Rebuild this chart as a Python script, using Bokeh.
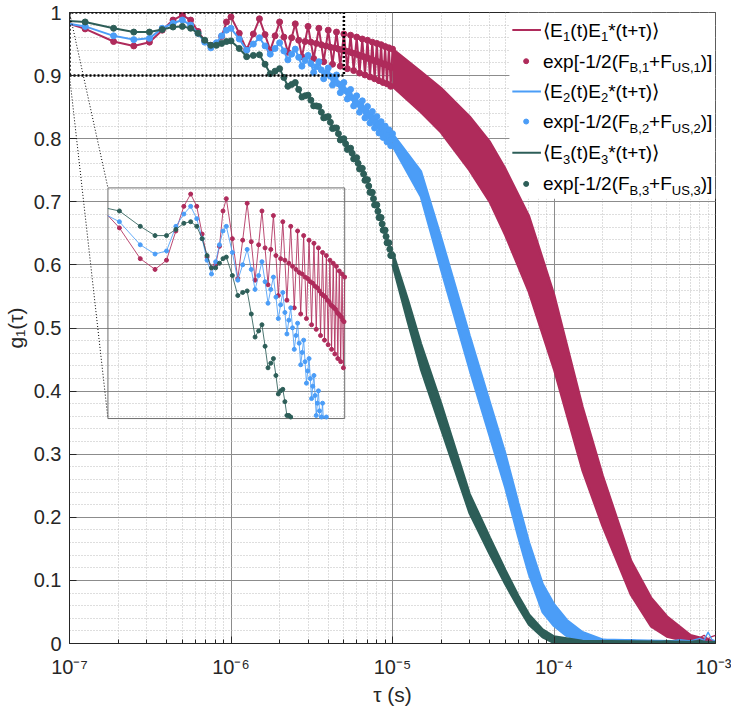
import numpy as np
from bokeh.plotting import figure
from bokeh.models import (Range1d, LogScale, LinearScale, FixedTicker,
                          CustomJSTickFormatter, Label, BoxAnnotation)
from bokeh.embed import file_html
from bokeh.resources import INLINE

RED, BLUE, GREEN = "#AF2B5B", "#4B9DF7", "#2D5E58"
FONT = "Liberation Sans"

# ---------------- axis ticks ----------------
x_tick_vals = [1e-7, 1e-6, 1e-5, 1e-4, 1e-3]
x_tick_labels = ["10\u207b\u2077", "10\u207b\u2076", "10\u207b\u2075", "10\u207b\u2074", "10\u207b\u00b3"]
y_tick_vals = [0.0, 0.1, 0.2, 0.3, 0.4, 0.5, 0.6, 0.7, 0.8, 0.9, 1.0]
y_tick_labels = ["0", "0.1", "0.2", "0.3", "0.4", "0.5", "0.6", "0.7", "0.8", "0.9", "1"]

# ---------------- data: first samples (62.5 ns spacing) ----------------
tau_early = [6.25e-8, 1.25e-7, 1.875e-7, 2.5e-7, 3.125e-7, 3.75e-7, 4.375e-7, 5.0e-7,
             5.625e-7, 6.25e-7, 6.875e-7, 7.5e-7, 8.125e-7, 8.75e-7, 9.375e-7]
red_early = [0.999, 0.974, 0.954, 0.947, 0.953, 0.972, 0.988, 0.996,
             0.988, 0.970, 0.955, 0.948, 0.950, 0.962, 0.985]
blue_early = [0.990, 0.978, 0.963, 0.957, 0.959, 0.975, 0.983, 0.988,
              0.980, 0.967, 0.953, 0.944, 0.952, 0.963, 0.972]
green_early = [0.990, 0.985, 0.975, 0.969, 0.969, 0.973, 0.977, 0.978,
               0.975, 0.967, 0.956, 0.948, 0.948, 0.951, 0.954]

# ---------------- data: oscillating part, period 0.5 us (periods 2..20) ----------------
T_OSC = 5e-7
osc_index = list(range(2, 21))
red_peak = [0.993, 0.990, 0.985, 0.982, 0.978, 0.975, 0.972, 0.969, 0.966, 0.964,
            0.961, 0.958, 0.956, 0.953, 0.951, 0.949, 0.946, 0.944, 0.942]
red_fall = [0.967, 0.965, 0.961, 0.956, 0.953, 0.949, 0.945, 0.942, 0.939, 0.936,
            0.933, 0.930, 0.927, 0.924, 0.922, 0.919, 0.917, 0.914]
red_trough = [0.941, 0.940, 0.937, 0.930, 0.927, 0.922, 0.918, 0.915, 0.911, 0.908,
              0.904, 0.901, 0.898, 0.895, 0.892, 0.889, 0.887, 0.883]
red_rise = [0.966, 0.963, 0.960, 0.954, 0.951, 0.947, 0.944, 0.941, 0.938, 0.935,
            0.931, 0.929, 0.926, 0.923, 0.921, 0.918, 0.916, 0.913]

blue_peak = [0.975, 0.960, 0.952, 0.942, 0.932, 0.922, 0.912, 0.901, 0.889, 0.878,
             0.868, 0.860, 0.851, 0.843, 0.835, 0.827, 0.820, 0.814, 0.808]
blue_fall = [0.958, 0.947, 0.939, 0.929, 0.919, 0.909, 0.899, 0.887, 0.876, 0.865,
             0.855, 0.847, 0.838, 0.830, 0.822, 0.815, 0.808, 0.802]
blue_trough = [0.940, 0.934, 0.925, 0.915, 0.905, 0.895, 0.885, 0.873, 0.863, 0.852,
               0.842, 0.833, 0.825, 0.817, 0.809, 0.802, 0.795, 0.789]
blue_rise = [0.950, 0.943, 0.934, 0.924, 0.914, 0.904, 0.893, 0.881, 0.871, 0.860,
             0.851, 0.842, 0.834, 0.826, 0.818, 0.811, 0.805, 0.799]

green_peak = [0.955, 0.933, 0.911, 0.889, 0.869, 0.851, 0.835, 0.817, 0.800, 0.785,
              0.770, 0.753, 0.735, 0.715, 0.695, 0.675, 0.655, 0.635, 0.615]
green_fall = [0.943, 0.918, 0.897, 0.878, 0.861, 0.842, 0.826, 0.808, 0.792, 0.777,
              0.761, 0.744, 0.725, 0.705, 0.685, 0.665, 0.645, 0.625]
green_trough = [0.930, 0.903, 0.883, 0.866, 0.852, 0.833, 0.816, 0.798, 0.783, 0.768,
                0.752, 0.734, 0.715, 0.695, 0.675, 0.655, 0.635, 0.615]
green_rise = [0.932, 0.907, 0.886, 0.868, 0.852, 0.834, 0.817, 0.799, 0.784, 0.769,
              0.753, 0.735, 0.715, 0.695, 0.675, 0.655, 0.635, 0.615]

# ---------------- data: dense part drawn as envelope band ----------------
red_band_tau = [1e-5, 1.5e-5, 2e-5, 3e-5, 4e-5, 5e-5, 7e-5, 1e-4, 1.5e-4, 2e-4, 3e-4, 4e-4, 5e-4, 7e-4, 1e-3]
red_band_hi = [0.942, 0.906, 0.880, 0.835, 0.795, 0.752, 0.677, 0.553, 0.375, 0.266, 0.131, 0.072, 0.043, 0.013, 0.003]
red_band_lo = [0.883, 0.842, 0.810, 0.750, 0.700, 0.647, 0.557, 0.435, 0.275, 0.186, 0.077, 0.027, 0.011, 0.002, 0.000]

blue_band_tau = [1e-5, 1.5e-5, 2e-5, 3e-5, 4e-5, 5e-5, 6e-5, 7e-5, 8.5e-5, 1e-4, 1.2e-4, 1.5e-4, 2e-4, 1e-3]
blue_band_hi = [0.808, 0.748, 0.643, 0.488, 0.382, 0.300, 0.223, 0.160, 0.094, 0.062, 0.037, 0.018, 0.006, 0.002]
blue_band_lo = [0.789, 0.708, 0.593, 0.435, 0.329, 0.247, 0.170, 0.110, 0.050, 0.028, 0.012, 0.004, 0.000, 0.000]

green_band_tau = [1e-5, 1.25e-5, 1.5e-5, 2e-5, 3e-5, 4e-5, 5e-5, 6e-5, 7e-5, 8.5e-5, 1e-4, 1.5e-4, 1e-3]
green_band_hi = [0.621, 0.543, 0.475, 0.380, 0.237, 0.168, 0.116, 0.076, 0.046, 0.022, 0.011, 0.004, 0.002]
green_band_lo = [0.601, 0.508, 0.435, 0.340, 0.207, 0.142, 0.094, 0.058, 0.030, 0.010, 0.001, 0.000, 0.000]

# simulated (noisy) correlation near zero
red_tail_tau = [5e-4, 5.5e-4, 6e-4, 6.5e-4, 7e-4, 7.5e-4, 8e-4, 8.5e-4, 9e-4, 9.5e-4, 1e-3]
red_tail = [0.020, 0.012, 0.016, 0.017, 0.012, 0.005, 0.009, 0.013, 0.007, 0.011, 0.013]
blue_tail_tau = [1.5e-4, 2e-4, 2.5e-4, 3e-4, 3.5e-4, 4e-4, 5e-4, 6e-4, 7e-4, 8e-4, 8.5e-4, 9e-4, 9.5e-4, 1e-3]
blue_tail = [0.012, 0.007, 0.004, 0.006, 0.003, 0.005, 0.003, 0.006, 0.004, 0.008, 0.005, 0.018, 0.006, 0.004]
green_tail_tau = [1.5e-4, 2e-4, 3e-4, 4e-4, 5e-4, 6e-4, 7e-4, 8e-4, 9e-4, 1e-3]
green_tail = [0.004, 0.002, 0.003, 0.001, 0.004, 0.002, 0.003, 0.005, 0.002, 0.003]

# zoomed region and inset view
zoom_tau = [1e-7, 5e-6]
zoom_g = [0.9, 1.0]
inset_tau = [1e-7, 1e-5]
inset_g = [0.85, 1.0]


def build_seq(early_g, peak, fall, trough, rise):
    tau = list(tau_early)
    g = list(early_g)
    for i, m in enumerate(osc_index[:-1]):
        tau += [m * T_OSC, (m + 0.25) * T_OSC, (m + 0.5) * T_OSC, (m + 0.75) * T_OSC]
        g += [peak[i], fall[i], trough[i], rise[i]]
    tau.append(osc_index[-1] * T_OSC)
    g.append(peak[-1])
    return np.array(tau), np.array(g)


def clip_to_box(tau, g, xlo, xhi, ylo, yhi):
    lx = np.log10(tau)
    lo, hi = np.log10(xlo), np.log10(xhi)
    ox, oy = [], []
    last = None
    for i in range(len(lx) - 1):
        x0, y0, x1, y1 = lx[i], g[i], lx[i + 1], g[i + 1]
        dx, dy = x1 - x0, y1 - y0
        t0, t1, ok = 0.0, 1.0, True
        for pp, qq in ((-dx, x0 - lo), (dx, hi - x0), (-dy, y0 - ylo), (dy, yhi - y0)):
            if pp == 0:
                if qq < 0:
                    ok = False
                    break
            else:
                r = qq / pp
                if pp < 0:
                    if r > t1:
                        ok = False
                        break
                    t0 = max(t0, r)
                else:
                    if r < t0:
                        ok = False
                        break
                    t1 = min(t1, r)
        if not ok:
            continue
        sx, sy = x0 + t0 * dx, y0 + t0 * dy
        ex, ey = x0 + t1 * dx, y0 + t1 * dy
        if last is None or abs(last[0] - sx) > 1e-12 or abs(last[1] - sy) > 1e-12:
            if ox:
                ox.append(np.nan)
                oy.append(np.nan)
            ox.append(sx)
            oy.append(sy)
        ox.append(ex)
        oy.append(ey)
        last = (ex, ey)
    return 10 ** np.array(ox), np.array(oy)


series = [
    (RED, build_seq(red_early, red_peak, red_fall, red_trough, red_rise),
     red_band_tau, red_band_hi, red_band_lo, red_tail_tau, red_tail),
    (BLUE, build_seq(blue_early, blue_peak, blue_fall, blue_trough, blue_rise),
     blue_band_tau, blue_band_hi, blue_band_lo, blue_tail_tau, blue_tail),
    (GREEN, build_seq(green_early, green_peak, green_fall, green_trough, green_rise),
     green_band_tau, green_band_hi, green_band_lo, green_tail_tau, green_tail),
]

# ---------------- figure ----------------
FRAME_W, FRAME_H = 646, 631
p = figure(x_axis_type="log", x_range=Range1d(1e-7, 1e-3), y_range=Range1d(0, 1),
           frame_width=FRAME_W, frame_height=FRAME_H,
           min_border_left=64, min_border_right=16, min_border_top=12, min_border_bottom=8,
           output_backend="svg", toolbar_location=None,
           background_fill_color="white", border_fill_color="white")

x_minor = [k * 10.0 ** d for d in range(-7, -3) for k in range(2, 10)]
y_minor = [round(0.02 * i, 2) for i in range(51)]
xticker = FixedTicker(ticks=x_tick_vals, minor_ticks=x_minor)
yticker = FixedTicker(ticks=y_tick_vals, minor_ticks=y_minor)
p.xaxis.ticker = xticker
p.yaxis.ticker = yticker
p.xgrid.ticker = xticker
p.ygrid.ticker = yticker

p.xaxis.formatter = CustomJSTickFormatter(args=dict(vals=x_tick_vals, labs=x_tick_labels), code="""
let best = 0, bd = Infinity;
for (let i = 0; i < vals.length; i++) {
  const d = Math.abs(Math.log10(tick) - Math.log10(vals[i]));
  if (d < bd) { bd = d; best = i; }
}
return labs[best];
""")
p.yaxis.formatter = CustomJSTickFormatter(args=dict(vals=y_tick_vals, labs=y_tick_labels), code="""
let best = 0, bd = Infinity;
for (let i = 0; i < vals.length; i++) {
  const d = Math.abs(tick - vals[i]);
  if (d < bd) { bd = d; best = i; }
}
return labs[best];
""")

for g_ in (p.xgrid, p.ygrid):
    g_.grid_line_color = "#8c8c8c"
    g_.grid_line_width = 1
    g_.minor_grid_line_color = "#bdbdbd"
    g_.minor_grid_line_dash = "1 2"
    g_.minor_grid_line_width = 1

for ax in (p.xaxis[0], p.yaxis[0]):
    ax.axis_line_color = "#262626"
    ax.major_tick_line_color = "#262626"
    ax.minor_tick_line_color = "#262626"
    ax.major_tick_in = 7
    ax.major_tick_out = 0
    ax.minor_tick_in = 4
    ax.minor_tick_out = 0
    ax.major_label_text_font = FONT
    ax.major_label_text_font_size = "20px"
    ax.major_label_text_color = "#262626"
    ax.axis_label_text_font = FONT
    ax.axis_label_text_font_size = "21px"
    ax.axis_label_text_font_style = "normal"
    ax.axis_label_text_color = "#262626"
p.yaxis.minor_tick_line_color = None
p.xaxis.major_label_standoff = 12
p.yaxis.major_label_standoff = 8
p.xaxis.axis_label_standoff = 2
p.yaxis.axis_label_standoff = 4
p.xaxis.axis_label = "\u03c4 (s)"
p.yaxis.axis_label = "g\u2081(\u03c4)"
p.outline_line_color = "#262626"
p.outline_line_alpha = 1.0


def fxd(f):
    return 10 ** (-7 + 4 * f)


# legend background (under the curves, over the grid)
p.add_layout(BoxAnnotation(left=fxd(0.681), right=1e-3, bottom=0.705, top=1.0,
                           fill_color="white", fill_alpha=1.0, line_color=None,
                           level="underlay"))

# ---------------- main curves ----------------
for color, (tau, g), btau, bhi, blo, ttau, tval in series:
    p.line(tau, g, line_color=color, line_width=2)
    p.scatter(tau, g, size=6, fill_color=color, line_color=color)
    p.varea(x=btau, y1=blo, y2=bhi, fill_color=color)
    p.line(btau, bhi, line_color=color, line_width=2.5)
    p.line(btau, blo, line_color=color, line_width=2.5)
    p.line(ttau, tval, line_color=color, line_width=1.3)

# ---------------- zoom box, inset ----------------
p.line([zoom_tau[0], zoom_tau[1], zoom_tau[1], zoom_tau[0], zoom_tau[0]],
       [zoom_g[0], zoom_g[0], zoom_g[1], zoom_g[1], zoom_g[0]],
       line_color="black", line_width=2.5, line_dash="2 2")

INSET_FX = (0.0595, 0.426)
INSET_FY = (0.3565, 0.722)
lx0, lx1 = np.log10(inset_tau[0]), np.log10(inset_tau[1])
dpf = (lx1 - lx0) / (INSET_FX[1] - INSET_FX[0])
xs0 = lx0 - INSET_FX[0] * dpf
upf = (inset_g[1] - inset_g[0]) / (INSET_FY[1] - INSET_FY[0])
ys0 = inset_g[0] - INSET_FY[0] * upf
p.extra_x_ranges = {"ix": Range1d(start=10 ** xs0, end=10 ** (xs0 + dpf))}
p.extra_x_scales = {"ix": LogScale()}
p.extra_y_ranges = {"iy": Range1d(start=ys0, end=ys0 + upf)}
p.extra_y_scales = {"iy": LinearScale()}

# connectors from zoom box to inset
p.line([zoom_tau[0], fxd(INSET_FX[0])], [zoom_g[1], INSET_FY[1]],
       line_color="black", line_width=1, line_dash="1 2")
p.line([zoom_tau[0], fxd(INSET_FX[0])], [zoom_g[0], INSET_FY[0]],
       line_color="black", line_width=1, line_dash="1 2")

p.quad(left=[inset_tau[0]], right=[inset_tau[1]], bottom=[inset_g[0]], top=[inset_g[1]],
       fill_color=None, line_color="#6e6e6e", line_width=1,
       x_range_name="ix", y_range_name="iy")

for color, (tau, g), *_ in series:
    cx, cy = clip_to_box(tau, g, inset_tau[0], inset_tau[1], inset_g[0], inset_g[1])
    p.line(cx, cy, line_color=color, line_width=1.0, line_alpha=0.85,
           x_range_name="ix", y_range_name="iy")
    m = (tau >= inset_tau[0]) & (tau <= inset_tau[1]) & (g >= inset_g[0]) & (g <= inset_g[1])
    p.scatter(tau[m], g[m], size=4, fill_color=color, line_color=color,
              x_range_name="ix", y_range_name="iy")

# ---------------- legend ----------------
EM = {' ': 0.278, '(': 0.333, ')': 0.333, '*': 0.389, '+': 0.584, ',': 0.278, '-': 0.333,
      '/': 0.278, '[': 0.278, ']': 0.278, 'B': 0.667, 'E': 0.667, 'F': 0.611, 'S': 0.667,
      'U': 0.722, 'e': 0.556, 'p': 0.556, 't': 0.278, 'x': 0.5, '\u03c4': 0.46,
      '\u27e8': 0.39, '\u27e9': 0.39}


def text_w(s, size):
    return sum(EM.get(c, 0.556) for c in s) * size


LEG_SIZE, SUB_SIZE = 19, 13
row_fy = [0.9722, 0.9228, 0.875, 0.8272, 0.7778, 0.7284]
text_fx, sym_fx0, sym_fx1, dot_fx = 0.733, 0.6855, 0.7298, 0.7069
sub_dy = 6.5 / FRAME_H

for i, color in enumerate([RED, BLUE, GREEN]):
    n = str(i + 1)
    y_line, y_dot = row_fy[2 * i], row_fy[2 * i + 1]
    p.line([fxd(sym_fx0), fxd(sym_fx1)], [y_line, y_line], line_color=color, line_width=2)
    p.scatter([fxd(dot_fx)], [y_dot], size=5, fill_color=color, line_color=color)
    for yrow, pieces in ((y_line, [("\u27e8E", 0), (n, 1), ("(t)E", 0), (n, 1), ("*(t+\u03c4)\u27e9", 0)]),
                         (y_dot, [("exp[-1/2(F", 0), ("B," + n, 1), ("+F", 0), ("US," + n, 1), (")]", 0)])):
        off = 0.0
        for txt, sub in pieces:
            size = SUB_SIZE if sub else LEG_SIZE
            p.add_layout(Label(x=fxd(text_fx), y=yrow - (sub_dy if sub else 0.0), x_offset=off,
                               text=txt, text_font=FONT, text_font_size=f"{size}px",
                               text_baseline="middle", text_align="left", text_color="black"))
            off += text_w(txt, size)

open("out.html", "w").write(file_html(p, INLINE))
